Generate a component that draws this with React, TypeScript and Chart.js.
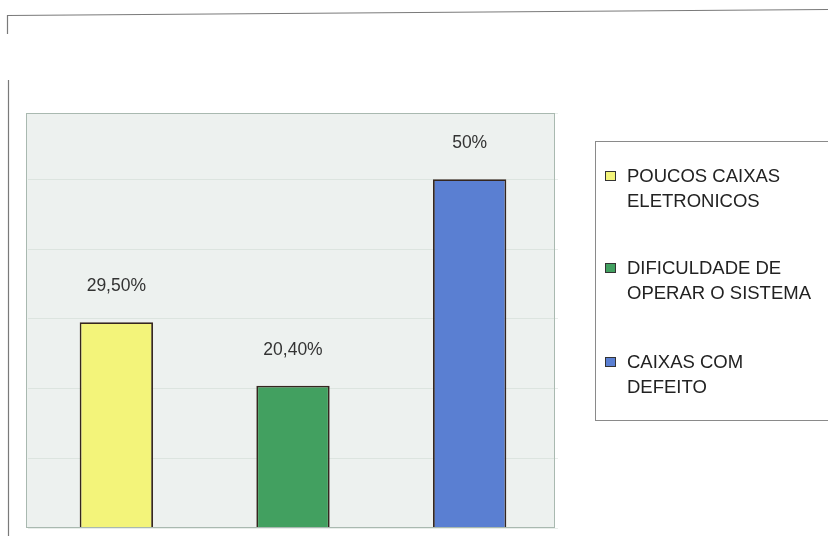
import React, { useEffect, useRef } from "react";
import { Chart, registerables } from "chart.js";

Chart.register(...registerables);

const categories: string[][] = [
  ["POUCOS CAIXAS", "ELETRONICOS"],
  ["DIFICULDADE DE", "OPERAR O SISTEMA"],
  ["CAIXAS COM", "DEFEITO"],
];
const values: number[] = [29.5, 20.4, 50];
const valueLabels: string[] = ["29,50%", "20,40%", "50%"];
const barColors: string[] = ["#f3f47a", "#42a060", "#5a7fd2"];
const yMax = 59.5;
const yStep = 10;

const FONT = '"Liberation Sans", Arial, sans-serif';

const decorPlugin = {
  id: "decor",
  beforeDraw(chart: any) {
    const { ctx, chartArea } = chart;
    ctx.save();
    // outer frame
    ctx.strokeStyle = "#7a7a7a";
    ctx.lineWidth = 1.2;
    ctx.beginPath();
    ctx.moveTo(7.5, 34);
    ctx.lineTo(7.5, 15.5);
    ctx.lineTo(828, 9.5);
    ctx.stroke();
    ctx.beginPath();
    ctx.moveTo(8.5, 80);
    ctx.lineTo(8.5, 536);
    ctx.stroke();
    // plot background
    ctx.fillStyle = "#edf1ef";
    ctx.fillRect(chartArea.left - 2, chartArea.top, chartArea.right - chartArea.left - 1, chartArea.bottom - chartArea.top);
    ctx.restore();
  },
  afterDraw(chart: any) {
    const { ctx, chartArea } = chart;
    ctx.save();
    ctx.strokeStyle = "#a9b9b0";
    ctx.lineWidth = 1;
    ctx.strokeRect(chartArea.left - 1.5, chartArea.top + 0.5, chartArea.right - chartArea.left - 2, chartArea.bottom - chartArea.top - 1);
    ctx.restore();
  },
  afterDatasetsDraw(chart: any) {
    const { ctx } = chart;
    const meta = chart.getDatasetMeta(0);
    ctx.save();
    ctx.fillStyle = "#333333";
    ctx.font = `17.5px ${FONT}`;
    ctx.textAlign = "center";
    ctx.textBaseline = "middle";
    meta.data.forEach((bar: any, i: number) => {
      ctx.fillText(valueLabels[i], bar.x, bar.y - 36);
    });
    ctx.restore();
  },
};

export default function App() {
  const canvasRef = useRef<HTMLCanvasElement | null>(null);

  useEffect(() => {
    if (!canvasRef.current) return;
    const chart = new Chart(canvasRef.current, {
      type: "bar",
      data: {
        labels: categories.map((c) => c.join(" ")),
        datasets: [
          {
            data: values,
            backgroundColor: barColors,
            borderColor: "#35261f",
            borderWidth: 1.8,
            barPercentage: 0.415,
            categoryPercentage: 1,
          },
        ],
      },
      options: {
        animation: false,
        responsive: false,
        maintainAspectRatio: false,
        layout: { padding: { left: 28, top: 113, right: 270, bottom: 8 } },
        plugins: { legend: { display: false }, tooltip: { enabled: false } },
        scales: {
          x: { display: false },
          y: {
            min: 0,
            max: yMax,
            ticks: { display: false, stepSize: yStep },
            border: { display: false },
            grid: { color: "rgba(190,204,196,0.35)", drawTicks: false, lineWidth: 1 },
          },
        },
      },
      plugins: [decorPlugin],
    });
    return () => chart.destroy();
  }, []);

  const itemTops = [163, 255, 349];

  return (
    <div style={{ position: "fixed", left: 0, top: 0, width: 828, height: 536, background: "#fff", overflow: "hidden" }}>
      <canvas ref={canvasRef} width={828} height={536} style={{ position: "absolute", left: 0, top: 0 }} />
      <div
        style={{
          position: "absolute",
          left: 595,
          top: 141,
          width: 260,
          height: 280,
          border: "1px solid #8a8a8a",
          boxSizing: "border-box",
        }}
      />
      {categories.map((lines, i) => (
        <div key={i} style={{ position: "absolute", left: 605, top: itemTops[i], fontFamily: FONT, fontSize: 18.5, lineHeight: "25px", color: "#222", whiteSpace: "nowrap" }}>
          <span
            style={{
              position: "absolute",
              left: 0,
              top: 8,
              width: 11,
              height: 10,
              boxSizing: "border-box",
              border: "1px solid #333",
              background: barColors[i],
            }}
          />
          <div style={{ marginLeft: 22 }}>
            {lines.map((l, j) => (
              <div key={j}>{l}</div>
            ))}
          </div>
        </div>
      ))}
    </div>
  );
}
